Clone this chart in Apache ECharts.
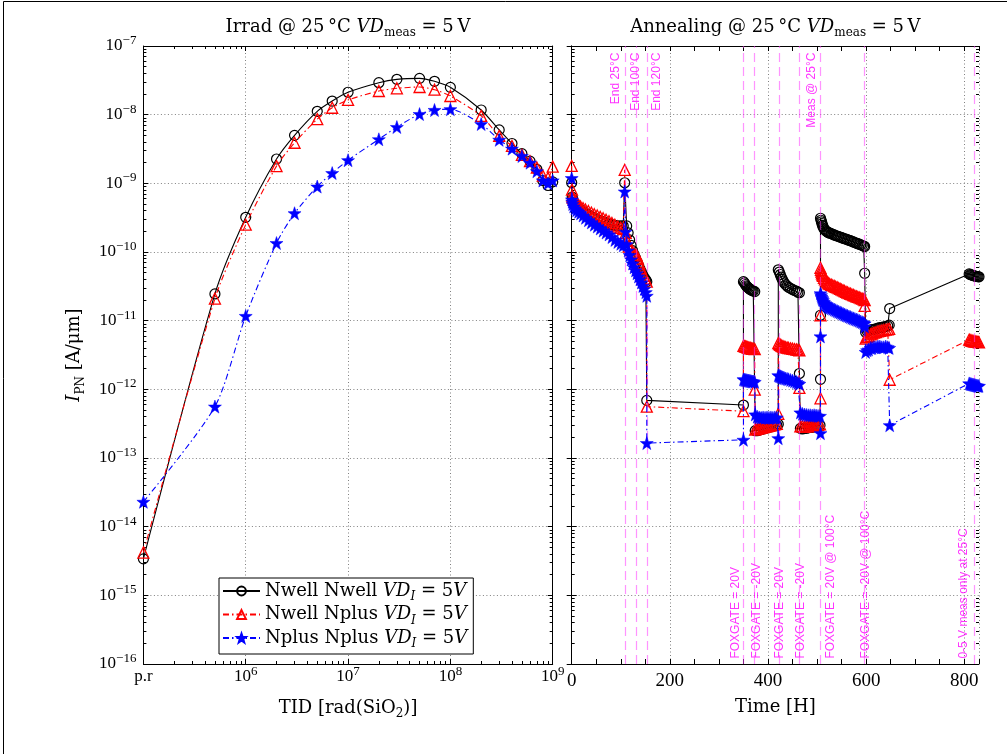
<!DOCTYPE html>
<html><head><meta charset="utf-8">
<script src="https://cdn.jsdelivr.net/npm/echarts@6/dist/echarts.min.js"></script>
<style>html,body{margin:0;padding:0;background:#fff}#c{width:1007px;height:754px}</style>
</head><body><div id="c"></div>
<script>
// ---------------- DATA ----------------
const seriesNames = ['Nwell Nwell', 'Nwell Nplus', 'Nplus Nplus'];

// Irradiation panel: TID [rad(SiO2)] (1e5 = "p.r" pre-rad)
const irradDose = [1e5, 5e5, 1e6, 2e6, 3e6, 5e6, 7e6, 1e7, 2e7, 3e7, 5e7, 7e7, 1e8, 2e8, 3e8, 4e8, 5e8, 6e8, 7e8, 8e8, 9e8, 1e9];
const irradNwellNwell = [3.4e-15, 2.45e-11, 3.2e-10, 2.26e-9, 5.0e-9, 1.12e-8, 1.58e-8, 2.12e-8, 2.92e-8, 3.27e-8, 3.38e-8, 3.06e-8, 2.5e-8, 1.17e-8, 6.0e-9, 3.8e-9, 2.7e-9, 2.1e-9, 1.6e-9, 1.1e-9, 0.93e-9, 1.05e-9];
const irradNwellNplus = [4.2e-15, 2.1e-11, 2.5e-10, 1.78e-9, 3.9e-9, 8.6e-9, 1.26e-8, 1.64e-8, 2.21e-8, 2.42e-8, 2.53e-8, 2.31e-8, 1.87e-8, 9.6e-9, 4.9e-9, 3.5e-9, 2.6e-9, 2.1e-9, 1.7e-9, 1.3e-9, 1.2e-9, 1.75e-9];
const irradNplusNplus = [2.3e-14, 5.6e-13, 1.17e-11, 1.35e-10, 3.67e-10, 8.96e-10, 1.41e-9, 2.17e-9, 4.38e-9, 6.6e-9, 1.02e-8, 1.17e-8, 1.2e-8, 7.3e-9, 4.3e-9, 3.2e-9, 2.5e-9, 2.0e-9, 1.5e-9, 1.1e-9, 1.0e-9, 1.1e-9];

// Annealing panel: [time H, I_PN A/um]
const annealNwellNwell = [
[0,1.02e-9],[1,6.3e-10],[2,5.8e-10],[4,5.3e-10],[7,4.9e-10],[10,4.6e-10],[14,4.3e-10],[18,4.1e-10],[23,3.9e-10],[28,3.7e-10],[34,3.5e-10],[40,3.3e-10],[46,3.15e-10],[52,3.0e-10],[58,2.85e-10],[64,2.75e-10],[70,2.65e-10],[76,2.55e-10],[82,2.5e-10],[88,2.45e-10],[94,2.4e-10],[100,2.4e-10],[105,2.4e-10],
[108,1.02e-9],
[112,2.4e-10],[115,1.9e-10],[118,1.5e-10],[121,1.25e-10],[124,1.05e-10],[127,9.2e-11],[130,8.2e-11],[133,7.2e-11],[136,6.4e-11],[139,5.7e-11],[142,5.1e-11],[145,4.6e-11],[148,4.2e-11],[151,3.9e-11],[153,3.7e-11],
[153,6.9e-13],[350,5.9e-13],
[350,3.7e-11],[352,3.55e-11],[354,3.35e-11],[356,3.2e-11],[358,3.1e-11],[360,3.0e-11],[362,2.92e-11],[364,2.85e-11],[366,2.8e-11],[368,2.75e-11],[370,2.7e-11],[373,2.65e-11],
[374,2.5e-13],[378,2.5e-13],[382,2.55e-13],[386,2.6e-13],[390,2.65e-13],[394,2.7e-13],[398,2.75e-13],[402,2.8e-13],[406,2.85e-13],[410,2.9e-13],[414,2.95e-13],[418,3.0e-13],[421,3.1e-13],
[421,5.5e-11],[423,5.1e-11],[425,4.7e-11],[427,4.3e-11],[429,4.0e-11],[431,3.75e-11],[433,3.55e-11],[436,3.35e-11],[439,3.2e-11],[442,3.05e-11],[446,2.95e-11],[450,2.85e-11],[454,2.75e-11],[458,2.7e-11],[461,2.6e-11],[464,2.55e-11],
[464,1.7e-12],
[466,2.7e-13],[470,2.65e-13],[474,2.7e-13],[478,2.7e-13],[482,2.75e-13],[486,2.8e-13],[490,2.8e-13],[494,2.85e-13],[498,2.9e-13],[502,2.95e-13],[506,3.0e-13],
[507,1.4e-12],[507,1.2e-11],
[507,3.1e-10],[508,2.9e-10],[509,2.75e-10],[510,2.6e-10],[511,2.45e-10],[512,2.35e-10],[514,2.2e-10],[516,2.1e-10],[518,2.03e-10],[520,1.98e-10],[522,1.94e-10],[524,1.91e-10],[526,1.88e-10],[529,1.85e-10],[532,1.81e-10],[535,1.77e-10],[538,1.74e-10],[541,1.71e-10],[544,1.68e-10],[547,1.65e-10],[550,1.62e-10],[553,1.59e-10],[556,1.56e-10],[559,1.54e-10],[562,1.51e-10],[565,1.48e-10],[568,1.46e-10],[571,1.43e-10],[574,1.4e-10],[577,1.37e-10],[580,1.35e-10],[583,1.32e-10],[586,1.3e-10],[589,1.27e-10],[592,1.25e-10],[595,1.22e-10],[597,1.2e-10],
[597,4.9e-11],
[599,6.8e-12],[602,7.0e-12],[605,7.1e-12],[609,7.3e-12],[612,7.4e-12],[616,7.5e-12],[620,7.6e-12],[624,7.8e-12],[628,7.9e-12],[632,8.0e-12],[636,8.1e-12],[640,8.2e-12],[644,8.4e-12],[647,8.6e-12],
[648,1.5e-11],
[810,4.8e-11],[812,4.7e-11],[814,4.65e-11],[816,4.6e-11],[818,4.55e-11],[820,4.5e-11],[822,4.45e-11],[824,4.42e-11],[826,4.4e-11],[828,4.37e-11],[830,4.35e-11]
];
const annealNwellNplus = [
[0,1.79e-9],[0.5,8.1e-10],[1,6.6e-10],[2,6.2e-10],[4,5.9e-10],[7,5.5e-10],[10,5.2e-10],[14,4.85e-10],[18,4.6e-10],[23,4.35e-10],[28,4.15e-10],[34,3.95e-10],[40,3.75e-10],[46,3.55e-10],[52,3.4e-10],[58,3.25e-10],[64,3.1e-10],[70,2.95e-10],[76,2.8e-10],[82,2.65e-10],[88,2.5e-10],[94,2.35e-10],[100,2.25e-10],[105,2.15e-10],
[108,1.57e-9],
[110,1.9e-10],[113,1.45e-10],[116,1.2e-10],[120,1.08e-10],[124,1.0e-10],[128,9.5e-11],[132,9.0e-11],[135,8.0e-11],[138,6.8e-11],[141,5.8e-11],[144,5.0e-11],[147,4.5e-11],[150,4.1e-11],[153,3.7e-11],
[153,5.6e-13],[350,4.8e-13],
[350,4.3e-12],[352,4.25e-12],[354,4.2e-12],[356,4.15e-12],[358,4.1e-12],[360,4.05e-12],[362,4.0e-12],[364,4.0e-12],[366,3.95e-12],[368,3.9e-12],[370,3.9e-12],[373,3.85e-12],
[373,9.9e-13],
[374,2.6e-13],[378,2.65e-13],[382,2.7e-13],[386,2.75e-13],[390,2.8e-13],[394,2.85e-13],[398,2.9e-13],[402,2.95e-13],[406,3.0e-13],[410,3.05e-13],[414,3.1e-13],[418,3.15e-13],[421,4.4e-13],
[421,4.7e-12],[423,4.55e-12],[425,4.45e-12],[427,4.35e-12],[429,4.25e-12],[431,4.2e-12],[433,4.15e-12],[436,4.1e-12],[439,4.05e-12],[442,4.0e-12],[446,3.95e-12],[450,3.9e-12],[454,3.85e-12],[458,3.8e-12],[461,3.75e-12],[464,3.7e-12],
[464,1.05e-12],
[466,2.9e-13],[470,2.9e-13],[474,2.85e-13],[478,2.9e-13],[482,2.9e-13],[486,2.95e-13],[490,2.95e-13],[494,3.0e-13],[498,3.0e-13],[502,3.05e-13],[506,3.1e-13],
[507,7.4e-13],[507,1.2e-11],
[507,5.9e-11],[508,5.5e-11],[509,5.2e-11],[510,4.9e-11],[511,4.7e-11],[512,4.5e-11],[514,4.2e-11],[516,4.0e-11],[518,3.85e-11],[520,3.7e-11],[522,3.58e-11],[524,3.48e-11],[526,3.4e-11],[529,3.33e-11],[532,3.26e-11],[535,3.2e-11],[538,3.12e-11],[541,3.05e-11],[544,2.98e-11],[547,2.9e-11],[550,2.83e-11],[553,2.76e-11],[556,2.7e-11],[559,2.63e-11],[562,2.57e-11],[565,2.51e-11],[568,2.46e-11],[571,2.41e-11],[574,2.36e-11],[577,2.31e-11],[580,2.26e-11],[583,2.22e-11],[586,2.18e-11],[589,2.13e-11],[592,2.09e-11],[595,2.05e-11],[597,2.0e-11],
[597,1.64e-11],
[599,5.5e-12],[602,5.8e-12],[605,6.0e-12],[609,6.3e-12],[612,6.5e-12],[616,6.7e-12],[620,6.8e-12],[624,7.0e-12],[628,7.1e-12],[632,7.2e-12],[636,7.3e-12],[640,7.4e-12],[644,7.5e-12],[647,7.6e-12],
[648,1.38e-12],
[810,5.3e-12],[812,5.2e-12],[814,5.15e-12],[816,5.1e-12],[818,5.05e-12],[820,5.0e-12],[822,5.0e-12],[824,4.95e-12],[826,4.9e-12],[828,4.9e-12],[830,4.85e-12]
];
const annealNplusNplus = [
[0,1.19e-9],[0.5,5.8e-10],[1,5.4e-10],[2,5.0e-10],[4,4.6e-10],[7,4.3e-10],[10,4.05e-10],[14,3.85e-10],[18,3.65e-10],[23,3.4e-10],[28,3.15e-10],[34,2.9e-10],[40,2.7e-10],[46,2.5e-10],[52,2.35e-10],[58,2.2e-10],[64,2.05e-10],[70,1.92e-10],[76,1.8e-10],[82,1.65e-10],[88,1.5e-10],[94,1.4e-10],[100,1.32e-10],[105,1.25e-10],
[108,7.6e-10],
[110,1.97e-10],[112,1.3e-10],[115,1.05e-10],[118,9.0e-11],[121,7.8e-11],[124,6.8e-11],[127,6.0e-11],[130,5.4e-11],[133,4.9e-11],[136,4.4e-11],[139,4.0e-11],[142,3.6e-11],[145,3.2e-11],[148,2.9e-11],[151,2.6e-11],[153,2.3e-11],
[153,1.65e-13],[350,1.84e-13],
[350,1.4e-12],[352,1.38e-12],[354,1.37e-12],[356,1.36e-12],[358,1.35e-12],[360,1.34e-12],[362,1.33e-12],[364,1.32e-12],[366,1.31e-12],[368,1.3e-12],[370,1.3e-12],[373,1.28e-12],
[374,4.3e-13],[378,4.0e-13],[382,3.9e-13],[386,3.85e-13],[390,3.9e-13],[394,3.85e-13],[398,3.9e-13],[402,3.85e-13],[406,3.9e-13],[410,3.85e-13],[414,3.9e-13],[418,3.85e-13],[421,1.94e-13],
[421,1.6e-12],[423,1.57e-12],[425,1.55e-12],[427,1.52e-12],[429,1.5e-12],[431,1.48e-12],[433,1.46e-12],[436,1.44e-12],[439,1.42e-12],[442,1.4e-12],[446,1.37e-12],[450,1.34e-12],[454,1.31e-12],[458,1.28e-12],[461,1.24e-12],[464,1.2e-12],
[466,4.6e-13],[470,4.4e-13],[474,4.3e-13],[478,4.25e-13],[482,4.2e-13],[486,4.2e-13],[490,4.15e-13],[494,4.2e-13],[498,4.15e-13],[502,4.1e-13],[506,4.1e-13],
[507,2.3e-13],[507,5.9e-12],
[507,2.5e-11],[508,2.35e-11],[509,2.23e-11],[510,2.13e-11],[511,2.05e-11],[512,1.98e-11],[514,1.87e-11],[516,1.78e-11],[518,1.72e-11],[520,1.67e-11],[522,1.62e-11],[524,1.58e-11],[526,1.55e-11],[529,1.52e-11],[532,1.49e-11],[535,1.45e-11],[538,1.42e-11],[541,1.38e-11],[544,1.35e-11],[547,1.32e-11],[550,1.29e-11],[553,1.26e-11],[556,1.23e-11],[559,1.2e-11],[562,1.18e-11],[565,1.15e-11],[568,1.13e-11],[571,1.1e-11],[574,1.08e-11],[577,1.06e-11],[580,1.04e-11],[583,1.02e-11],[586,1.0e-11],[589,9.7e-12],[592,9.5e-12],[595,9.3e-12],[597,9.1e-12],
[597,8.2e-12],
[599,3.5e-12],[602,3.7e-12],[605,3.8e-12],[609,4.0e-12],[612,4.0e-12],[616,4.1e-12],[620,4.1e-12],[624,4.2e-12],[628,4.2e-12],[632,4.1e-12],[636,4.1e-12],[640,4.2e-12],[644,4.1e-12],[647,4.0e-12],
[648,3.0e-13],
[810,1.22e-12],[812,1.2e-12],[814,1.19e-12],[816,1.18e-12],[818,1.17e-12],[820,1.16e-12],[822,1.15e-12],[824,1.14e-12],[826,1.13e-12],[828,1.12e-12],[830,1.12e-12]
];

// Annotation lines (time H) and texts
const annealEventTimes = [109, 131, 153, 350, 373, 422, 464, 507, 597, 820];
const topNotes = [[90, 'End 25°C'], [131, 'End 100°C'], [173, 'End 120°C'], [490, 'Meas @ 25°C']];
const bottomNotes = [[334, 'FOXGATE = 20V'], [376, 'FOXGATE = -20V'], [423, 'FOXGATE = 20V'], [466, 'FOXGATE = -20V'], [527, 'FOXGATE = 20V @ 100°C'], [599, 'FOXGATE = -20V @ 100°C'], [799, '0-5 V meas only at 25°C']];

// Axis tick labels
const timeTicks = [0, 200, 400, 600, 800];

// ---------------- CHART ----------------
const SERIF = 'Liberation Serif';
const TXT = 'DejaVu Serif';
const SANS = 'Liberation Sans';
const FS = 18;
const chart = echarts.init(document.getElementById('c'), null, {renderer: 'canvas'});

const rich = {
  b: {fontFamily: SERIF, fontSize: 17, color: '#000', lineHeight: 24, verticalAlign: 'middle'},
  s: {fontFamily: SERIF, fontSize: 13, color: '#000', lineHeight: 13, verticalAlign: 'top'},
  r: {fontFamily: TXT, fontSize: FS, color: '#000', lineHeight: 24, verticalAlign: 'middle'},
  i: {fontFamily: TXT, fontSize: FS, fontStyle: 'italic', color: '#000', lineHeight: 24, verticalAlign: 'middle'},
  sub: {fontFamily: TXT, fontSize: 12, color: '#000', lineHeight: 13, verticalAlign: 'bottom'},
  subi: {fontFamily: TXT, fontSize: 12, fontStyle: 'italic', color: '#000', lineHeight: 13, verticalAlign: 'bottom'}
};

function minorLog(e0, e1) {
  const out = [];
  for (let e = e0; e < e1; e++) for (let k = 2; k <= 9; k++) out.push(k * Math.pow(10, e));
  return out;
}
const minorX = minorLog(5, 9);
const minorY = minorLog(-16, -7);

const G0 = {left: 143.4, top: 46, width: 409.3, height: 618};
const G1 = {left: 571.7, top: 46, width: 407.3, height: 618};

const tickStyle = {color: '#000', width: 1};
const gridLine = {show: true, lineStyle: {color: '#808080', type: [1, 2.5], width: 1}};
const noLine = {show: false};

function logLabel(v) {
  const e = Math.round(Math.log10(v));
  if (e === 5) return '{b|p.r}';
  return '{b|10}{s|' + (e < 0 ? '\u2212' + (-e) : e) + '}';
}

const xAxes = [
  // grid 0
  {gridIndex: 0, type: 'log', min: 1e5, max: 1e9, splitNumber: 4, position: 'bottom',
   axisLine: {show: true, lineStyle: tickStyle}, axisTick: {show: true, inside: true, length: 5, lineStyle: tickStyle},
   axisLabel: {show: true, margin: 1, formatter: logLabel, rich: rich},
   splitLine: gridLine,
   name: '{r|TID [rad(SiO}{sub|2}{r|)]}', nameLocation: 'middle', nameGap: 32, nameTextStyle: {rich: rich}},
  {gridIndex: 0, type: 'log', min: 1e5, max: 1e9, splitNumber: 4, position: 'top',
   axisLine: {show: true, lineStyle: tickStyle}, axisTick: {show: true, inside: true, length: 5, lineStyle: tickStyle},
   axisLabel: noLine, splitLine: noLine},
  {gridIndex: 0, type: 'log', min: 1e5, max: 1e9, position: 'bottom',
   axisLine: noLine, axisTick: {show: true, inside: true, length: 3, lineStyle: tickStyle, customValues: minorX},
   axisLabel: noLine, splitLine: noLine},
  {gridIndex: 0, type: 'log', min: 1e5, max: 1e9, position: 'top',
   axisLine: noLine, axisTick: {show: true, inside: true, length: 3, lineStyle: tickStyle, customValues: minorX},
   axisLabel: noLine, splitLine: noLine},
  // grid 1
  {gridIndex: 1, type: 'value', min: 0, max: 830, interval: 200, position: 'bottom',
   axisLine: {show: true, lineStyle: tickStyle}, axisTick: {show: false},
   axisLabel: {show: true, margin: 8, fontFamily: SERIF, fontSize: 19, color: '#000', showMaxLabel: false,
     formatter: v => timeTicks.indexOf(v) >= 0 ? String(v) : ''},
   splitLine: gridLine,
   name: 'Time [H]', nameLocation: 'middle', nameGap: 34, nameTextStyle: {fontFamily: TXT, fontSize: FS, color: '#000'}},
  {gridIndex: 1, type: 'value', min: 0, max: 830, interval: 50, position: 'bottom',
   axisLine: noLine, axisTick: {show: true, inside: true, length: 5, lineStyle: tickStyle},
   axisLabel: noLine, splitLine: noLine},
  {gridIndex: 1, type: 'value', min: 0, max: 830, interval: 50, position: 'top',
   axisLine: {show: true, lineStyle: tickStyle}, axisTick: {show: true, inside: true, length: 5, lineStyle: tickStyle},
   axisLabel: noLine, splitLine: noLine}
];

function yAxesFor(g, labels) {
  return [
    Object.assign({gridIndex: g, type: 'log', min: 1e-16, max: 1e-7, splitNumber: 9, position: 'left',
     axisLine: {show: true, lineStyle: tickStyle}, axisTick: {show: true, inside: true, length: 5, lineStyle: tickStyle},
     axisLabel: labels ? {show: true, margin: 7, formatter: logLabel, rich: rich} : noLine,
     splitLine: gridLine},
     labels ? {name: '{i|I}{sub|PN}{r| [A/\u03bcm]}', nameLocation: 'middle', nameGap: 57, nameTextStyle: {rich: rich}} : {}),
    {gridIndex: g, type: 'log', min: 1e-16, max: 1e-7, splitNumber: 9, position: 'right',
     axisLine: {show: true, lineStyle: tickStyle}, axisTick: {show: true, inside: true, length: 5, lineStyle: tickStyle},
     axisLabel: noLine, splitLine: noLine},
    {gridIndex: g, type: 'log', min: 1e-16, max: 1e-7, position: 'left',
     axisLine: noLine, axisTick: {show: true, inside: true, length: 3, lineStyle: tickStyle, customValues: minorY},
     axisLabel: noLine, splitLine: noLine},
    {gridIndex: g, type: 'log', min: 1e-16, max: 1e-7, position: 'right',
     axisLine: noLine, axisTick: {show: true, inside: true, length: 3, lineStyle: tickStyle, customValues: minorY},
     axisLabel: noLine, splitLine: noLine}
  ];
}
const yAxes = yAxesFor(0, true).concat(yAxesFor(1, false));

const STAR = 'path://M0,-10L2.35,-3.24L9.51,-3.09L3.8,1.24L5.88,8.09L0,4L-5.88,8.09L-3.8,1.24L-9.51,-3.09L-2.35,-3.24Z';
const styles = [
  {symbol: 'circle', symbolSize: 10, itemStyle: {color: 'rgba(0,0,0,0)', borderColor: '#000', borderWidth: 1.2}, lineStyle: {color: '#000', width: 1.1, type: 'solid'}},
  {symbol: 'triangle', symbolSize: 11, itemStyle: {color: 'rgba(0,0,0,0)', borderColor: '#ff0000', borderWidth: 1.3}, lineStyle: {color: '#ff0000', width: 1.1, type: [6, 3, 1.5, 3]}},
  {symbol: STAR, symbolSize: 13, itemStyle: {color: '#0000ff', borderColor: '#0000ff', borderWidth: 0.5}, lineStyle: {color: '#0000ff', width: 1.1, type: [6, 3, 1.5, 3]}}
];

const irradVals = [irradNwellNwell, irradNwellNplus, irradNplusNplus];
const annealVals = [annealNwellNwell, annealNwellNplus, annealNplusNplus];

const series = [];
for (let k = 0; k < 3; k++) {
  const st = styles[k];
  series.push({
    name: seriesNames[k], type: 'line', xAxisIndex: 0, yAxisIndex: 0,
    data: irradDose.map((d, i) => [d, irradVals[k][i]]),
    symbol: st.symbol, symbolSize: st.symbolSize, itemStyle: st.itemStyle, lineStyle: st.lineStyle,
    showSymbol: true, showAllSymbol: true, smooth: 0.25, clip: false, z: 3 + k
  });
}
for (let k = 0; k < 3; k++) {
  const st = styles[k];
  series.push({
    name: seriesNames[k], type: 'line', xAxisIndex: 4, yAxisIndex: 4,
    data: annealVals[k],
    symbol: st.symbol, symbolSize: st.symbolSize, itemStyle: st.itemStyle, lineStyle: st.lineStyle,
    showSymbol: true, showAllSymbol: true, clip: false, z: 3 + k
  });
}
// annotation lines + texts
series.push({
  type: 'scatter', xAxisIndex: 4, yAxisIndex: 4, symbolSize: 0, silent: true, z: 2,
  data: topNotes.map(n => ({value: [n[0], 8e-8], name: n[1]})),
  label: {show: true, formatter: '{b}', position: 'inside', rotate: 90, align: 'right', verticalAlign: 'middle',
    color: '#ff00ff', fontFamily: SANS, fontSize: 12},
  markLine: {silent: true, symbol: ['none', 'none'], label: {show: false},
    lineStyle: {color: 'rgba(255,60,255,0.55)', type: [9, 5], width: 1.2},
    data: annealEventTimes.map(t => ({xAxis: t}))}
});
series.push({
  type: 'scatter', xAxisIndex: 4, yAxisIndex: 4, symbolSize: 0, silent: true, z: 2,
  data: bottomNotes.map(n => ({value: [n[0], 1.2e-16], name: n[1]})),
  label: {show: true, formatter: '{b}', position: 'inside', rotate: 90, align: 'left', verticalAlign: 'middle',
    color: '#ff00ff', fontFamily: SANS, fontSize: 12}
});

const option = {
  animation: false,
  backgroundColor: '#fff',
  grid: [Object.assign({containLabel: false}, G0), Object.assign({containLabel: false}, G1)],
  xAxis: xAxes,
  yAxis: yAxes,
  legend: {
    data: seriesNames, left: 219, top: 578, orient: 'vertical', selectedMode: false,
    backgroundColor: '#fff', borderColor: '#000', borderWidth: 1, borderRadius: 0,
    padding: [4, 6, 4, 3], itemWidth: 37, itemHeight: 11, itemGap: 2.5,
    textStyle: {rich: rich, fontFamily: TXT, fontSize: FS, color: '#000'},
    formatter: name => '{r|' + name + ' }{i|VD}{subi|I}{r| = 5}{i|V}'
  },
  graphic: [
    {type: 'text', x: 348, y: 27, silent: true,
     style: {text: '{r|Irrad @ 25\u2009°C }{i|VD}{sub|meas}{r| = 5\u2009V}', rich: rich, align: 'center', verticalAlign: 'middle'}},
    {type: 'text', x: 775.4, y: 27, silent: true,
     style: {text: '{r|Annealing @ 25\u2009°C }{i|VD}{sub|meas}{r| = 5\u2009V}', rich: rich, align: 'center', verticalAlign: 'middle'}},
    {type: 'rect', silent: true, shape: {x: 3.5, y: 1.5, width: 1100, height: 1000}, style: {fill: 'none', stroke: '#000', lineWidth: 1}}
  ],
  series: series
};
chart.setOption(option);
</script>
</body></html>
